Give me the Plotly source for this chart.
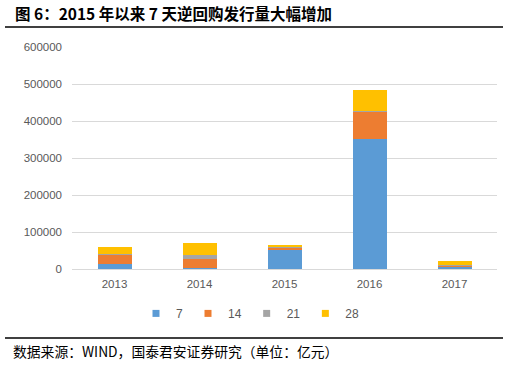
import plotly.graph_objects as go

years = ["2013", "2014", "2015", "2016", "2017"]
s7 = [14000, 2000, 53000, 352000, 7000]
s14 = [26000, 26000, 4000, 73000, 3000]
s21 = [500, 9000, 3000, 2000, 1000]
s28 = [19000, 34000, 5000, 56000, 10000]
series_names = ["7", "14", "21", "28"]
colors = ["#5B9BD5", "#ED7D31", "#A5A5A5", "#FFC000"]
y_ticks = [0, 100000, 200000, 300000, 400000, 500000, 600000]

fig = go.Figure()
for name, vals, col in zip(series_names, [s7, s14, s21, s28], colors):
    fig.add_trace(go.Bar(x=years, y=vals, name=name, legendgroup=name, showlegend=False,
                         marker=dict(color=col, line=dict(width=0))))
for name, col in zip(series_names, colors):
    fig.add_trace(go.Scatter(x=[None], y=[None], mode="markers", name=name, legendgroup=name,
                             marker=dict(symbol="square", size=7, color=col)))

W, H = 506, 367
L, R, T, B = 72, 9, 47, 98
fig.update_layout(
    width=W, height=H,
    barmode="stack", bargap=0.6,
    margin=dict(l=L, r=R, t=T, b=B),
    paper_bgcolor="white", plot_bgcolor="white",
    font=dict(family="Liberation Sans, Arial, sans-serif", size=11, color="#595959"),
    showlegend=True,
    legend=dict(orientation="h", x=0.42, xanchor="center", y=-0.2, yanchor="middle",
                font=dict(size=12, color="#595959"), itemwidth=30, traceorder="normal",
                tracegroupgap=0, bgcolor="rgba(0,0,0,0)"),
    xaxis=dict(showgrid=False, showline=False, ticks="", ticklabelstandoff=6,
               tickfont=dict(size=11.5, color="#595959")),
    yaxis=dict(range=[0, 600000], tickvals=y_ticks, ticktext=[str(v) for v in y_ticks],
               showgrid=True, gridcolor="#D9D9D9", gridwidth=1, zeroline=True,
               zerolinecolor="#D9D9D9", zerolinewidth=1, ticklabelstandoff=9,
               showline=False, ticks="", tickfont=dict(size=11.5, color="#595959")),
)

ph = H - T - B
pw = W - L - R
def px(x):
    return (x - L) / pw
def py(y):
    return (H - B - y) / ph

fig.add_annotation(text="<b>图 6：2015 年以来 7 天逆回购发行量大幅增加</b>",
                   xref="paper", yref="paper", x=px(13), y=py(13), xanchor="left", yanchor="middle",
                   showarrow=False, font=dict(family="Noto Sans CJK SC", size=15.5, color="#000000"))
fig.add_annotation(text="数据来源：WIND，国泰君安证券研究（单位：亿元）",
                   xref="paper", yref="paper", x=px(11), y=py(351), xanchor="left", yanchor="middle",
                   showarrow=False, font=dict(family="Noto Sans CJK SC", size=13.8, color="#000000"))
fig.add_shape(type="line", xref="paper", yref="paper", x0=px(5), x1=px(503), y0=py(27), y1=py(27),
              line=dict(color="#000000", width=1.5))
fig.add_shape(type="line", xref="paper", yref="paper", x0=px(5), x1=px(503), y0=py(338), y1=py(338),
              line=dict(color="#000000", width=1.5))

fig.write_html("out.html", post_script="document.body.style.margin='0';",
               config={"displayModeBar": False})
